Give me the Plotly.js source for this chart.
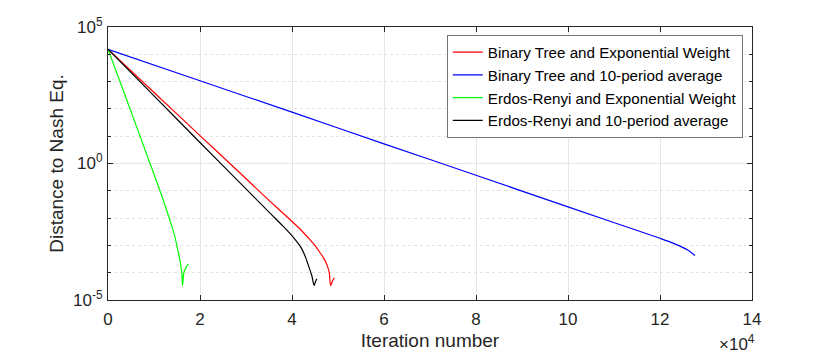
<!DOCTYPE html>
<html>
<head>
<meta charset="utf-8">
<script src="https://cdn.plot.ly/plotly-3.0.1.min.js"></script>
<style>
  html, body { margin: 0; padding: 0; background: #fff; }
  #plot { width: 830px; height: 356px; }
</style>
</head>
<body>
<div id="plot"></div>
<script>
// iterations (x) and distances (y)
const redIter = [0, 10000, 20000, 28700, 35000, 39600, 42000, 43900, 45200, 46100, 47000, 47700, 48100, 48400, 48800, 49200];
const redDist = [1.53e4, 400, 10.5, 0.447, 0.0447, 0.0087, 3.6e-3, 1.62e-3, 9.1e-4, 5.4e-4, 3.2e-4, 1.74e-4, 1.0e-4, 3.4e-5, 5.0e-5, 6.5e-5];

const blueIter = [0, 20000, 40000, 60000, 80000, 100000, 120000, 122000, 124000, 126000, 127600];
const blueDist = [1.53e4, 1070, 75.9, 5.25, 0.372, 0.0257, 1.82e-3, 1.38e-3, 1.0e-3, 6.8e-4, 4.3e-4];

const greenIter = [0, 4600, 9100, 11300, 13500, 14500, 15300, 15800, 16050, 16200, 16500, 17000, 17500];
const greenDist = [1.53e4, 123, 1.05, 0.1, 7.9e-3, 2.2e-3, 5.4e-4, 2.0e-4, 1.0e-4, 3.4e-5, 1.0e-4, 1.6e-4, 2.1e-4];

const blackIter = [0, 10000, 20000, 28700, 35000, 38000, 39600, 41000, 42100, 43000, 43700, 44300, 44800, 45100, 45400];
const blackDist = [1.53e4, 302, 5.9, 0.195, 0.0166, 5.2e-3, 2.7e-3, 1.4e-3, 7.6e-4, 3.5e-4, 1.58e-4, 7.9e-5, 3.4e-5, 4.7e-5, 6.0e-5];

const seriesNames = [
  'Binary Tree and Exponential Weight',
  'Binary Tree and 10-period average',
  'Erdos-Renyi and Exponential Weight',
  'Erdos-Renyi and 10-period average'
];

const xTicks = [0, 20000, 40000, 60000, 80000, 100000, 120000, 140000];
const xTickText = ['0', '2', '4', '6', '8', '10', '12', '14'];
const yTicks = [1e-5, 1, 1e5];
const yTickText = ['10<sup>-5</sup>', '10<sup>0</sup>', '10<sup>5</sup>'];
const yMinor = [1e-4, 1e-3, 1e-2, 1e-1, 1e1, 1e2, 1e3, 1e4];

const axisColor = '#262626';
const font = 'Liberation Sans, Arial, Helvetica, sans-serif';

function line(x, y, name, color) {
  return { x: x, y: y, name: name, type: 'scatter', mode: 'lines',
           line: { color: color, width: 1.2, shape: 'spline', smoothing: 0.8 } };
}

const traces = [
  line(redIter, redDist, seriesNames[0], '#ff0000'),
  line(blueIter, blueDist, seriesNames[1], '#0000ff'),
  line(greenIter, greenDist, seriesNames[2], '#00ff00'),
  line(blackIter, blackDist, seriesNames[3], '#000000')
];

const layout = {
  width: 830, height: 356,
  margin: { l: 108, r: 78, t: 27, b: 56 },
  paper_bgcolor: '#fff', plot_bgcolor: '#fff',
  font: { family: font, color: axisColor, size: 17 },
  showlegend: true,
  legend: {
    x: 0.986, y: 0.971, xanchor: 'right', yanchor: 'top',
    bgcolor: '#fff', bordercolor: '#555', borderwidth: 0.8,
    font: { size: 15.2, color: '#000' }, tracegroupgap: 0
  },
  xaxis: {
    range: [0, 140000],
    tickvals: xTicks, ticktext: xTickText,
    ticks: 'inside', ticklen: 5, tickcolor: axisColor, ticklabelstandoff: 4,
    showline: true, linecolor: axisColor, linewidth: 1, mirror: 'ticks',
    showgrid: true, gridcolor: '#e6e6e6', zeroline: false,
    title: { text: 'Iteration number', font: { size: 19 }, standoff: 5 }
  },
  yaxis: {
    type: 'log', range: [-5, 5],
    tickvals: yTicks, ticktext: yTickText,
    ticks: 'inside', ticklen: 5, tickcolor: axisColor, ticklabelstandoff: 1,
    showline: true, linecolor: axisColor, linewidth: 1, mirror: 'ticks',
    showgrid: true, gridcolor: '#e6e6e6', zeroline: false,
    minor: { tickvals: yMinor, ticks: 'inside', ticklen: 3, tickcolor: axisColor,
             showgrid: true, gridcolor: '#e2e2e2', griddash: 'dot', gridwidth: 1 },
    title: { text: 'Distance to Nash Eq.', font: { size: 19 }, standoff: 4 }
  },
  annotations: [{
    text: '×10<sup>4</sup>', xref: 'paper', yref: 'paper',
    x: 1.008, y: -0.11, xanchor: 'right', yanchor: 'top',
    showarrow: false, font: { size: 17, color: axisColor }
  }]
};

Plotly.newPlot('plot', traces, layout, { displayModeBar: false, staticPlot: true });
</script>
</body>
</html>
